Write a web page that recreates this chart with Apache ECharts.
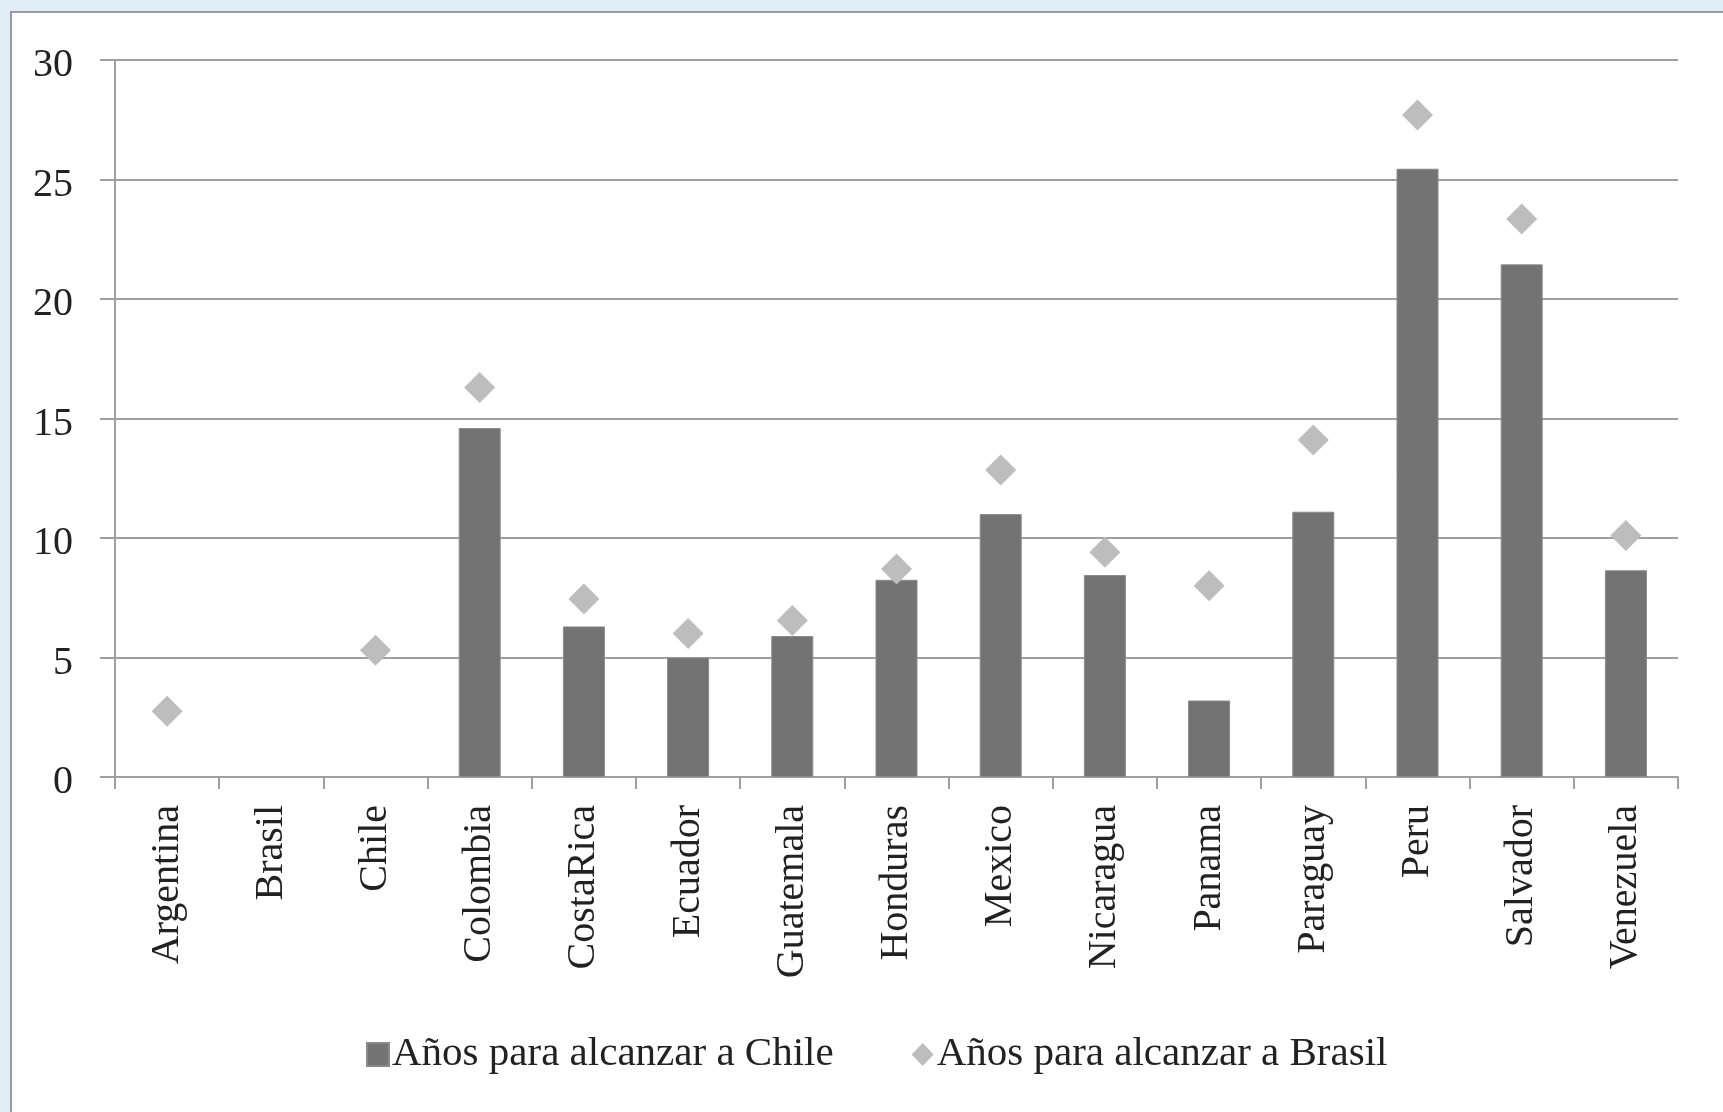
<!DOCTYPE html>
<html>
<head>
<meta charset="utf-8">
<script src="https://cdn.jsdelivr.net/npm/echarts@6/dist/echarts.min.js"></script>
<style>
html,body{margin:0;padding:0;background:#e2eef7;}
#c{width:1723px;height:1112px;}
</style>
</head>
<body>
<div id="c"></div>
<script>
const categories = ["Argentina","Brasil","Chile","Colombia","CostaRica","Ecuador","Guatemala","Honduras","Mexico","Nicaragua","Panama","Paraguay","Peru","Salvador","Venezuela"];
const yearsToChile = [null,null,null,14.6,6.3,5.0,5.9,8.25,11.0,8.45,3.2,11.1,25.45,21.45,8.65];
const yearsToBrasil = [2.75,null,5.3,16.3,7.45,6.0,6.55,8.7,12.85,9.4,8.0,14.1,27.7,23.35,10.1];
const seriesNames = ["Años para alcanzar a Chile","Años para alcanzar a Brasil"];

const font = "'Liberation Serif', 'DejaVu Serif', serif";
const chart = echarts.init(document.getElementById('c'), null, {renderer:'canvas'});
chart.setOption({
  backgroundColor: '#e2eef7',
  animation: false,
  graphic: [{
    type: 'rect', left: 10, top: 11, z: -10,
    shape: {width: 1740, height: 1130},
    style: {fill: '#ffffff', stroke: '#9a9a9a', lineWidth: 2}
  }],
  grid: {left: 115, right: 45, top: 60, bottom: 335, containLabel: false},
  legend: {
    top: 1029, left: 361,
    itemGap: 78, itemWidth: 22, itemHeight: 23,
    textStyle: {fontFamily: font, fontSize: 41, color: '#222', padding: [0,0,0,-2]},
    data: [{name: seriesNames[0], icon: 'rect'}, {name: seriesNames[1], icon: 'diamond'}]
  },
  xAxis: {
    type: 'category', data: categories,
    axisLine: {lineStyle: {color: '#a0a0a0', width: 2}},
    axisTick: {show: true, length: 12, lineStyle: {color: '#a0a0a0', width: 2}},
    axisLabel: {rotate: 90, margin: 28, interval: 0, fontFamily: font, fontSize: 40, color: '#222'}
  },
  yAxis: {
    type: 'value', min: 0, max: 30, interval: 5,
    axisLine: {show: true, lineStyle: {color: '#a0a0a0', width: 2}},
    axisTick: {show: true, length: 15, lineStyle: {color: '#a0a0a0', width: 2}},
    splitLine: {lineStyle: {color: '#a0a0a0', width: 2}},
    axisLabel: {
      margin: 42, fontFamily: font, fontSize: 40, color: '#222',
      formatter: '{a|{value}}',
      rich: {a: {fontFamily: font, fontSize: 40, color: '#222', padding: [11,0,0,0]}}
    }
  },
  series: [{
    name: seriesNames[0], type: 'bar', data: yearsToChile, barWidth: 42,
    itemStyle: {color: '#737373', borderColor: '#8a8a8a', borderWidth: 1}
  }, {
    name: seriesNames[1], type: 'scatter', data: yearsToBrasil,
    symbol: 'diamond', symbolSize: 31,
    itemStyle: {color: '#bdbdbd', opacity: 1}
  }]
});
</script>
</body>
</html>
